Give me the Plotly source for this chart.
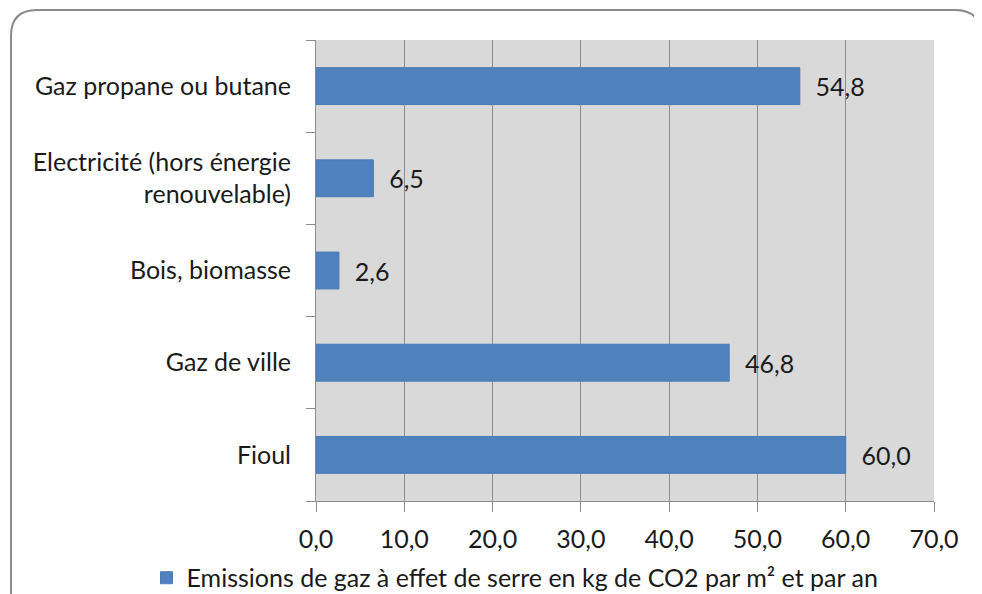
import plotly.graph_objects as go

categories = ["Fioul", "Gaz de ville", "Bois, biomasse",
              "Electricité (hors énergie<br>renouvelable)", "Gaz propane ou butane"]
values = [60.0, 46.8, 2.6, 6.5, 54.8]
series_name = "Emissions de gaz à effet de serre en kg de CO2 par m² et par an"
x_ticks = [0, 10, 20, 30, 40, 50, 60, 70]

FONT = "Lato, Carlito, Calibri, sans-serif"
FS = 25
OFF = 8  # page body margin
W, H = 982 - OFF, 594 - OFF
L, R, T, B = 316 - OFF, 934 - OFF, 40 - OFF, 501 - OFF

fig = go.Figure(go.Bar(
    y=categories, x=values, orientation="h", name=series_name,
    marker=dict(color="#4f81bd", line=dict(color="#4a7ab5", width=1)),
    texttemplate="\u00a0\u00a0%{x:.1f}", textposition="outside",
    textfont=dict(family=FONT, size=FS, color="#1a1a1a"),
    cliponaxis=False,
))

def P(x, y):
    x -= OFF
    y -= OFF
    px, py = (x - L) / (R - L), (B - y) / (B - T)
    return f"{px:.5f},{py:.5f}"

# rounded outer frame (reference pixel coordinates)
r = 26
x0, y0, x1, y1 = 11, 10, 981, 640
path = (f"M {P(x0, y1)} L {P(x0, y0 + r)} Q {P(x0, y0)} {P(x0 + r, y0)} "
        f"L {P(x1 - r, y0)} Q {P(x1, y0)} {P(x1, y0 + r)} L {P(x1, y1)}")

fig.update_layout(
    width=W, height=H,
    margin=dict(l=L, r=W - R, t=T, b=H - B, autoexpand=False),
    paper_bgcolor="white", plot_bgcolor="#d9d9d9",
    separators=", ",
    font=dict(family=FONT, size=FS, color="#1a1a1a"),
    bargap=0.6,
    showlegend=True,
    legend=dict(orientation="h", x=0.322, xanchor="center", y=-0.167, yanchor="middle",
                font=dict(family=FONT, size=FS, color="#1a1a1a"),
                bgcolor="rgba(0,0,0,0)"),
    xaxis=dict(range=[0, 70], tickvals=x_ticks, tickformat=".1f",
               showgrid=True, gridcolor="#8c8c8c", gridwidth=1,
               showline=True, linecolor="#8c8c8c", linewidth=1,
               ticks="outside", ticklen=10, tickcolor="#8c8c8c",
               ticklabelstandoff=6, zeroline=False, fixedrange=True),
    yaxis=dict(showgrid=False, showline=True, linecolor="#8c8c8c", linewidth=1,
               ticks="outside", ticklen=9, tickcolor="#8c8c8c",
               tickson="boundaries", ticklabelstandoff=19,
               zeroline=False, fixedrange=True),
    shapes=[dict(type="path", xref="paper", yref="paper", path=path,
                 line=dict(color="#8a8a8a", width=2), layer="below")],
)

fig.write_html("out.html")
